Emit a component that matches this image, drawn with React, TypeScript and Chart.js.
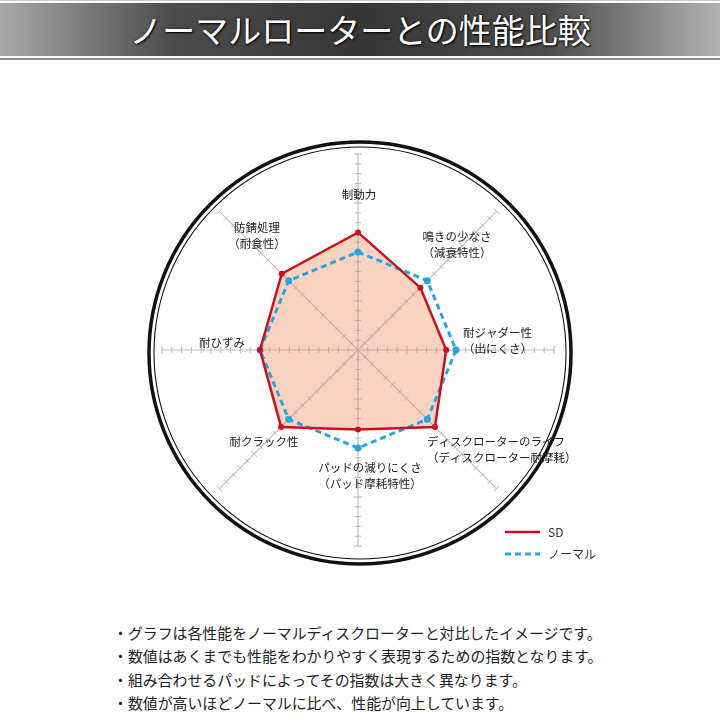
import { useEffect, useRef } from "react"
import { Chart, registerables } from "chart.js"

Chart.register(...registerables)

// 軸ラベル（上から時計回り）
const categories: (string | string[])[] = [
  "制動力",
  ["鳴きの少なさ", "（減衰特性）"],
  ["耐ジャダー性", "（出にくさ）"],
  ["ディスクローターのライフ", "（ディスクローター耐摩耗）"],
  ["パッドの減りにくさ", "（パッド摩耗特性）"],
  "耐クラック性",
  "耐ひずみ",
  ["防錆処理", "（耐食性）"],
]

const sdValues = [120, 90, 90, 111, 81, 111, 100, 110]
const normalValues = [100, 100, 100, 100, 100, 100, 100, 100]

// 軸上の目盛り
const tickValues = [10, 20, 30, 40, 50, 60, 70, 80, 90, 100, 110, 120, 130, 140, 150, 160, 170, 180, 190, 200]

const titleText = "ノーマルローターとの性能比較"
const notes = [
  "・グラフは各性能をノーマルディスクローターと対比したイメージです。",
  "・数値はあくまでも性能をわかりやすく表現するための指数となります。",
  "・組み合わせるパッドによってその指数は大きく異なります。",
  "・数値が高いほどノーマルに比べ、性能が向上しています。",
]

const FONT = '"Noto Sans CJK JP", "Noto Sans", sans-serif'

// ラベルの配置（中心からのずれ）
const labelLayout: { dx: number; dy: number; align: CanvasTextAlign }[] = [
  { dx: 1, dy: -155, align: "center" },
  { dx: 99, dy: -113, align: "center" },
  { dx: 105, dy: -17, align: "left" },
  { dx: 69, dy: 92, align: "left" },
  { dx: 12, dy: 118, align: "center" },
  { dx: -94, dy: 92, align: "center" },
  { dx: -113, dy: -7, align: "right" },
  { dx: -101, dy: -122, align: "center" },
]

const radarDecor = {
  id: "radarDecor",
  beforeDatasetsDraw(chart: any) {
    const scale = chart.scales.r
    const ctx: CanvasRenderingContext2D = chart.ctx
    const cx = scale.xCenter
    const cy = scale.yCenter
    ctx.save()

    // 外側の二重の円
    ctx.strokeStyle = "#111"
    ctx.lineWidth = 3.5
    ctx.beginPath()
    ctx.arc(cx + 2, cy + 3, 211, 0, Math.PI * 2)
    ctx.stroke()
    ctx.lineWidth = 1.1
    ctx.beginPath()
    ctx.arc(cx + 2, cy + 3, 206, 0, Math.PI * 2)
    ctx.stroke()

    // 軸の目盛り
    ctx.strokeStyle = "rgba(170,170,170,0.85)"
    ctx.lineWidth = 1
    const n = chart.data.labels.length
    for (let i = 0; i < n; i++) {
      const a = scale.getIndexAngle(i) - Math.PI / 2
      const px = -Math.sin(a)
      const py = Math.cos(a)
      for (const v of tickValues) {
        const p = scale.getPointPositionForValue(i, v)
        const h = v % 50 === 0 ? 4 : 3
        ctx.beginPath()
        ctx.moveTo(p.x - px * h, p.y - py * h)
        ctx.lineTo(p.x + px * h, p.y + py * h)
        ctx.stroke()
      }
    }
    ctx.restore()
  },
  afterDraw(chart: any) {
    const scale = chart.scales.r
    const ctx: CanvasRenderingContext2D = chart.ctx
    const cx = scale.xCenter
    const cy = scale.yCenter
    ctx.save()

    // 軸ラベル
    ctx.fillStyle = "#222"
    ctx.font = `11.5px ${FONT}`
    ctx.textBaseline = "middle"
    chart.data.labels.forEach((label: string | string[], i: number) => {
      const lines = Array.isArray(label) ? label : [label]
      const l = labelLayout[i]
      ctx.textAlign = l.align
      lines.forEach((line, j) => {
        ctx.fillText(line, cx + l.dx, cy + l.dy + j * 15.5)
      })
    })

    // 凡例
    chart.data.datasets.forEach((ds: any, i: number) => {
      const y = cy + 182 + i * 22
      ctx.strokeStyle = ds.borderColor
      ctx.lineWidth = ds.borderWidth
      ctx.setLineDash(ds.borderDash || [])
      ctx.beginPath()
      ctx.moveTo(cx + 147, y)
      ctx.lineTo(cx + 182, y)
      ctx.stroke()
      ctx.setLineDash([])
      ctx.fillStyle = "#333"
      ctx.textAlign = "left"
      ctx.font = `12px ${FONT}`
      ctx.fillText(ds.label, cx + 190, y)
    })
    ctx.restore()
  },
}

function RadarChart() {
  const chartRef = useRef<HTMLCanvasElement>(null)
  const chartInstance = useRef<Chart | null>(null)

  useEffect(() => {
    if (!chartRef.current) return
    if (chartInstance.current) {
      chartInstance.current.destroy()
    }
    const ctx = chartRef.current.getContext("2d")
    if (!ctx) return

    chartInstance.current = new Chart(ctx, {
      type: "radar",
      data: {
        labels: categories,
        datasets: [
          {
            label: "SD",
            data: sdValues,
            borderColor: "#c8101e",
            borderWidth: 2.5,
            backgroundColor: "rgba(240, 140, 90, 0.38)",
            fill: true,
            pointRadius: 3,
            pointBorderWidth: 0,
            pointBackgroundColor: "#c8101e",
          },
          {
            label: "ノーマル",
            data: normalValues,
            borderColor: "#2aa4de",
            borderWidth: 3,
            borderDash: [6, 4],
            fill: false,
            pointRadius: 3.5,
            pointBorderWidth: 0,
            pointBackgroundColor: "#2aa4de",
          },
        ],
      },
      options: {
        animation: false,
        responsive: true,
        maintainAspectRatio: false,
        layout: {
          padding: { left: 162, right: 166, top: 94, bottom: 74 },
        },
        elements: {
          line: { tension: 0 },
        },
        plugins: {
          legend: { display: false },
          tooltip: { enabled: false },
          filler: { drawTime: "beforeDatasetsDraw" },
        },
        scales: {
          r: {
            min: 0,
            max: 200,
            ticks: { display: false, stepSize: 10 },
            grid: { display: false },
            angleLines: { display: true, color: "rgba(180,180,180,0.85)", lineWidth: 1.2 },
            pointLabels: { display: false },
          },
        },
      },
      plugins: [radarDecor],
    } as any)

    return () => {
      if (chartInstance.current) {
        chartInstance.current.destroy()
        chartInstance.current = null
      }
    }
  }, [])

  return (
    <div style={{ position: "absolute", top: 60, left: 0, width: 720, height: 560 }}>
      <canvas ref={chartRef}></canvas>
    </div>
  )
}

export default function App() {
  return (
    <div style={{ position: "absolute", top: 0, left: 0, width: 720, height: 720, background: "#fff", overflow: "hidden" }}>
      <div style={{ position: "absolute", top: 0, left: 0, width: 720, height: 1, background: "#c8c8c8" }} />
      <div
        style={{
          position: "absolute",
          top: 3,
          left: 0,
          width: 720,
          height: 53,
          background: "linear-gradient(to right, #a9a9a9 0%, #4c4c4c 24%, #363636 50%, #4c4c4c 76%, #b2b2b2 100%)",
          color: "#fff",
          fontFamily: FONT,
          fontSize: 33,
          lineHeight: "53px",
          textAlign: "center",
          textShadow: "1px 1px 2px #000, 0 0 3px #222",
          letterSpacing: 0,
        }}
      >
        {titleText}
      </div>
      <div style={{ position: "absolute", top: 58, left: 0, width: 720, height: 1.5, background: "#8a8a8a" }} />
      <RadarChart />
      <div
        style={{
          position: "absolute",
          top: 621,
          left: 113,
          fontFamily: FONT,
          fontSize: 14.9,
          lineHeight: "23.3px",
          color: "#222",
          whiteSpace: "nowrap",
        }}
      >
        {notes.map((t) => (
          <div key={t}>{t}</div>
        ))}
      </div>
    </div>
  )
}
